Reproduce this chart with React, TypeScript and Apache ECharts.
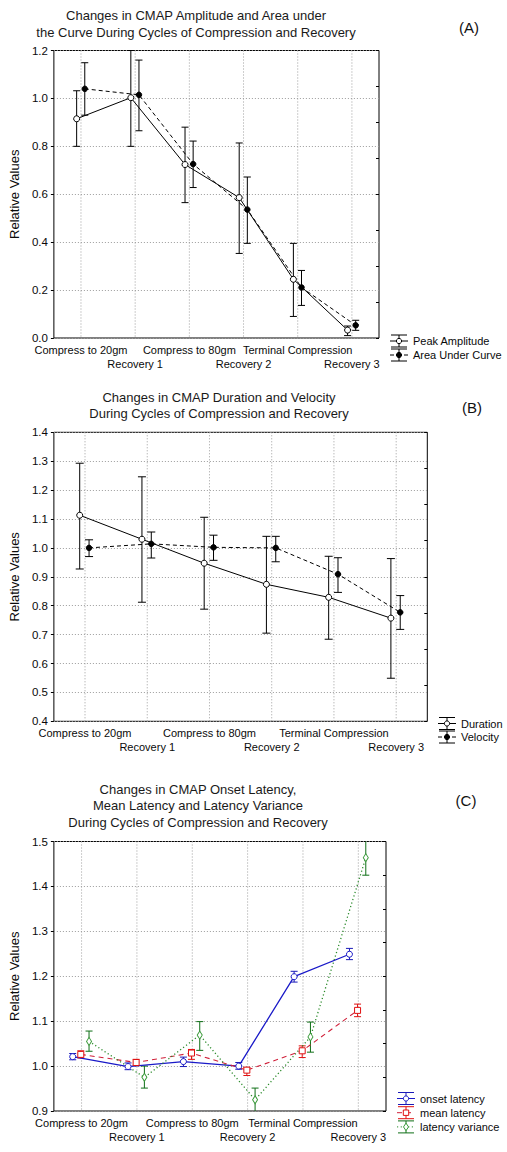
import React, { useEffect, useRef } from 'react';
import * as echarts from 'echarts';

// ---------- data ----------
const categories = ['Compress to 20gm', 'Recovery 1', 'Compress to 80gm', 'Recovery 2', 'Terminal Compression', 'Recovery 3'];

// Panel A
const peakAmplitude = [0.915, 1.003, 0.724, 0.586, 0.245, 0.033];
const peakAmplitudeLow = [0.80, 0.80, 0.565, 0.353, 0.09, 0.01];
const peakAmplitudeHigh = [1.032, 1.20, 0.88, 0.814, 0.395, 0.05];
const areaUnderCurve = [1.04, 1.015, 0.726, 0.536, 0.211, 0.053];
const areaUnderCurveLow = [0.93, 0.865, 0.628, 0.395, 0.136, 0.032];
const areaUnderCurveHigh = [1.149, 1.16, 0.822, 0.672, 0.282, 0.074];

// Panel B
const duration = [1.113, 1.030, 0.947, 0.874, 0.829, 0.757];
const durationLow = [0.927, 0.812, 0.788, 0.705, 0.684, 0.549];
const durationHigh = [1.293, 1.246, 1.106, 1.040, 0.971, 0.963];
const velocity = [1.0, 1.014, 1.002, 1.0, 0.909, 0.777];
const velocityLow = [0.97, 0.965, 0.957, 0.952, 0.846, 0.718];
const velocityHigh = [1.028, 1.055, 1.044, 1.04, 0.966, 0.835];

// Panel C
const onsetLatency = [1.021, 0.999, 1.01, 1.0, 1.199, 1.249];
const onsetLatencyLow = [1.014, 0.992, 0.999, 0.993, 1.187, 1.237];
const onsetLatencyHigh = [1.028, 1.007, 1.02, 1.008, 1.211, 1.262];
const meanLatency = [1.026, 1.008, 1.029, 0.991, 1.034, 1.124];
const meanLatencyLow = [1.018, 1.001, 1.015, 0.979, 1.019, 1.110];
const meanLatencyHigh = [1.034, 1.015, 1.037, 0.997, 1.045, 1.138];
const latencyVariance = [1.055, 0.975, 1.069, 0.925, 1.065, 1.464];
const latencyVarianceLow = [1.033, 0.951, 1.035, 0.89, 1.031, 1.425];
const latencyVarianceHigh = [1.078, 1.0, 1.099, 0.951, 1.098, 1.53];

// ---------- styling / layout ----------
const FONT = '"Liberation Sans", Arial, Helvetica, sans-serif';
const TEXT = '#0a0a0a';
const GRIDLINE = '#9c9c9c';

type S = {
  name: string; values: number[]; low: number[]; high: number[]; offset: number;
  color: string; barColor: string; markerColor: string; markerFill: string;
  dash: number[] | null; width: number; symbol: string; size: any;
};

const panels = [
  {
    grid: { left: 49, top: 50.5, width: 330, height: 287.5 },
    yMin: 0, yMax: 1.2, yInterval: 0.2, capW: 3.5,
    title: { lines: ['Changes in CMAP Amplitude and Area under', 'the Curve During Cycles of Compression and Recovery'], cx: 196, ys: [15.7, 32.3] },
    letter: { text: '(A)', x: 469, y: 27 },
    legend: { x: 390, y: 341, step: 14 },
    series: [
      { name: 'Peak Amplitude', values: peakAmplitude, low: peakAmplitudeLow, high: peakAmplitudeHigh, offset: -0.08,
        color: '#000', barColor: '#000', markerColor: '#000', markerFill: '#fff', dash: null, width: 1, symbol: 'circle', size: 6 },
      { name: 'Area Under Curve', values: areaUnderCurve, low: areaUnderCurveLow, high: areaUnderCurveHigh, offset: 0.07,
        color: '#000', barColor: '#000', markerColor: '#000', markerFill: '#000', dash: [4, 3], width: 1, symbol: 'circle', size: 5.5 },
    ] as S[],
  },
  {
    grid: { left: 49, top: 432.3, width: 378.3, height: 289 },
    yMin: 0.4, yMax: 1.4, yInterval: 0.1, capW: 4,
    title: { lines: ['Changes in CMAP Duration and Velocity', 'During Cycles of Compression and Recovery'], cx: 219, ys: [397.7, 413.3] },
    letter: { text: '(B)', x: 472, y: 407 },
    legend: { x: 438, y: 723.5, step: 13.5 },
    series: [
      { name: 'Duration', values: duration, low: durationLow, high: durationHigh, offset: -0.085,
        color: '#000', barColor: '#000', markerColor: '#000', markerFill: '#fff', dash: null, width: 1, symbol: 'circle', size: 6 },
      { name: 'Velocity', values: velocity, low: velocityLow, high: velocityHigh, offset: 0.065,
        color: '#000', barColor: '#000', markerColor: '#000', markerFill: '#000', dash: [4, 3], width: 1, symbol: 'circle', size: 5.5 },
    ] as S[],
  },
  {
    grid: { left: 49, top: 841.5, width: 337, height: 269.5 },
    yMin: 0.9, yMax: 1.5, yInterval: 0.1, capW: 3.5,
    title: { lines: ['Changes in CMAP Onset Latency,', 'Mean Latency and Latency Variance', 'During Cycles of Compression and Recovery'], cx: 198, ys: [789, 805.7, 822.3] },
    letter: { text: '(C)', x: 466, y: 800 },
    legend: { x: 397, y: 1098.5, step: 14.2 },
    series: [
      { name: 'onset latency', values: onsetLatency, low: onsetLatencyLow, high: onsetLatencyHigh, offset: -0.16,
        color: '#1a1ac8', barColor: '#1a1ab8', markerColor: '#1a1ac8', markerFill: '#fff', dash: null, width: 1.3, symbol: 'circle', size: 6 },
      { name: 'mean latency', values: meanLatency, low: meanLatencyLow, high: meanLatencyHigh, offset: -0.014,
        color: '#d0203a', barColor: '#e01010', markerColor: '#e01010', markerFill: '#fff', dash: [5, 4], width: 1.1, symbol: 'rect', size: 6 },
      { name: 'latency variance', values: latencyVariance, low: latencyVarianceLow, high: latencyVarianceHigh, offset: 0.135,
        color: '#2a8a2a', barColor: '#0e6e16', markerColor: '#3a9a3a', markerFill: '#fff', dash: [1.2, 2.5], width: 1.3, symbol: 'diamond', size: [5, 8] },
    ] as S[],
  },
];

function makeErrorRender(color: string, capW: number) {
  return (params: any, api: any) => {
    const x = api.value(0);
    const lo = api.value(2);
    const hi = api.value(3);
    const cs = params.coordSys;
    const pHi = api.coord([x, hi]);
    const pLo = api.coord([x, lo]);
    const yTop = Math.max(pHi[1], cs.y);
    const yBot = Math.min(pLo[1], cs.y + cs.height);
    const cx = pHi[0];
    const style = { stroke: color, lineWidth: 1, fill: null };
    const children: any[] = [
      { type: 'line', shape: { x1: cx, y1: yTop, x2: cx, y2: yBot }, style },
    ];
    if (pHi[1] >= cs.y - 0.5) children.push({ type: 'line', shape: { x1: cx - capW, y1: yTop, x2: cx + capW, y2: yTop }, style });
    if (pLo[1] <= cs.y + cs.height + 0.5) children.push({ type: 'line', shape: { x1: cx - capW, y1: yBot, x2: cx + capW, y2: yBot }, style });
    return { type: 'group', children };
  };
}

function gridLineRender(params: any, api: any) {
  const cs = params.coordSys;
  const p = api.coord([api.value(0), api.value(1)]);
  return {
    type: 'line',
    shape: { x1: p[0], y1: cs.y, x2: p[0], y2: cs.y + cs.height },
    style: { stroke: GRIDLINE, lineWidth: 1, lineDash: [1, 2] },
  };
}

function legendElements(p: any) {
  const els: any[] = [];
  p.series.forEach((s: S, k: number) => {
    const x0 = p.legend.x;
    const yc = p.legend.y + k * p.legend.step;
    const mx = x0 + 9;
    els.push({ type: 'line', shape: { x1: x0, y1: yc, x2: x0 + 18, y2: yc }, style: { stroke: s.color, lineWidth: 1, lineDash: s.dash || undefined } });
    const bar = { stroke: s.barColor, lineWidth: 1 };
    els.push({ type: 'line', shape: { x1: mx, y1: yc - 6, x2: mx, y2: yc + 6 }, style: bar });
    els.push({ type: 'line', shape: { x1: x0 + 1, y1: yc - 6, x2: x0 + 17, y2: yc - 6 }, style: bar });
    els.push({ type: 'line', shape: { x1: x0 + 1, y1: yc + 6, x2: x0 + 17, y2: yc + 6 }, style: bar });
    const mstyle = { fill: s.markerFill, stroke: s.markerColor, lineWidth: 1 };
    if (s.symbol === 'circle') {
      els.push({ type: 'circle', shape: { cx: mx, cy: yc, r: 2.6 }, style: mstyle });
    } else if (s.symbol === 'rect') {
      els.push({ type: 'rect', shape: { x: mx - 2.7, y: yc - 2.7, width: 5.4, height: 5.4 }, style: mstyle });
    } else {
      els.push({ type: 'polygon', shape: { points: [[mx, yc - 3.8], [mx + 2.5, yc], [mx, yc + 3.8], [mx - 2.5, yc]] }, style: mstyle });
    }
    els.push({
      type: 'text', x: x0 + 23, y: yc,
      style: { text: s.name, fill: TEXT, fontSize: 11, fontFamily: FONT, align: 'left', verticalAlign: 'middle', textAlign: 'left', textVerticalAlign: 'middle' },
    });
  });
  return els;
}

function buildOption() {
  const grid: any[] = [];
  const xAxis: any[] = [];
  const yAxis: any[] = [];
  const series: any[] = [];
  const graphic: any[] = [];

  panels.forEach((p, g) => {
    grid.push({ ...p.grid, show: true, borderColor: '#000', borderWidth: 1, backgroundColor: 'transparent', containLabel: false });
    xAxis.push({ gridIndex: g, type: 'value', min: 0.5, max: 6.5, show: false, position: 'bottom' });
    xAxis.push({
      gridIndex: g, type: 'category', data: categories, boundaryGap: true, position: 'bottom',
      axisLine: { show: false }, axisTick: { show: false }, splitLine: { show: false },
      axisLabel: {
        interval: 0, hideOverlap: false, margin: 5, fontSize: 11, lineHeight: 13.7, color: TEXT, fontFamily: FONT,
        formatter: (v: string, i: number) => (i % 2 === 1 ? '\n' + v : v),
      },
    });
    yAxis.push({
      gridIndex: g, type: 'value', min: p.yMin, max: p.yMax, interval: p.yInterval, position: 'left',
      name: 'Relative Values', nameLocation: 'middle', nameGap: 28,
      nameTextStyle: { fontSize: 13, color: TEXT, fontFamily: FONT },
      axisLine: { show: false },
      axisTick: { show: true, inside: false, length: 3, lineStyle: { color: '#000' } },
      axisLabel: { fontSize: 11.5, color: TEXT, fontFamily: FONT, margin: 6, formatter: (v: number) => v.toFixed(1) },
      splitLine: { show: true, lineStyle: { color: GRIDLINE, type: [1, 2], width: 1 } },
    });
    yAxis.push({
      gridIndex: g, type: 'value', min: 0, max: 8, interval: 1, position: 'right',
      axisLine: { show: false }, axisLabel: { show: false }, splitLine: { show: false },
      axisTick: { show: true, inside: true, length: 3, lineStyle: { color: '#000' } },
    });

    const xi = g * 2;
    const yi = g * 2;
    series.push({
      type: 'custom', xAxisIndex: xi, yAxisIndex: yi, silent: true, z: 1,
      renderItem: gridLineRender,
      data: categories.map((_, i) => [i + 1, p.yMin]),
    });
    p.series.forEach((s: S) => {
      series.push({
        type: 'custom', xAxisIndex: xi, yAxisIndex: yi, silent: true, z: 3,
        renderItem: makeErrorRender(s.barColor, p.capW),
        encode: { x: 0, y: 1 },
        data: s.values.map((v, i) => [i + 1 + s.offset, v, s.low[i], s.high[i]]),
      });
    });
    p.series.forEach((s: S) => {
      series.push({
        type: 'line', name: s.name, xAxisIndex: xi, yAxisIndex: yi, z: 5, silent: true,
        data: s.values.map((v, i) => [i + 1 + s.offset, v]),
        symbol: s.symbol, symbolSize: s.size, showSymbol: true,
        lineStyle: { color: s.color, width: s.width, type: s.dash ? s.dash : 'solid' },
        itemStyle: { color: s.markerFill, borderColor: s.markerColor, borderWidth: 1 },
        emphasis: { disabled: true },
      });
    });

    p.title.lines.forEach((line: string, k: number) => {
      graphic.push({
        type: 'text', x: p.title.cx, y: p.title.ys[k],
        style: { text: line, fill: '#1a1a1a', fontSize: 13, fontFamily: FONT, align: 'center', verticalAlign: 'middle', textAlign: 'center', textVerticalAlign: 'middle' },
      });
    });
    graphic.push({
      type: 'text', x: p.letter.x, y: p.letter.y,
      style: { text: p.letter.text, fill: '#111', fontSize: 15, fontFamily: FONT, align: 'center', verticalAlign: 'middle', textAlign: 'center', textVerticalAlign: 'middle' },
    });
    graphic.push(...legendElements(p));
  });

  return {
    animation: false,
    backgroundColor: '#fff',
    grid, xAxis, yAxis, series,
    graphic: { elements: graphic },
  };
}

export default function App() {
  const ref = useRef<HTMLDivElement>(null);
  useEffect(() => {
    if (!ref.current) return;
    const chart = echarts.init(ref.current, null, { renderer: 'svg' });
    chart.setOption(buildOption() as any);
    return () => chart.dispose();
  }, []);
  return (
    <div
      ref={ref}
      style={{ position: 'absolute', left: 0, top: 0, width: 507, height: 1152, background: '#fff' }}
    />
  );
}
